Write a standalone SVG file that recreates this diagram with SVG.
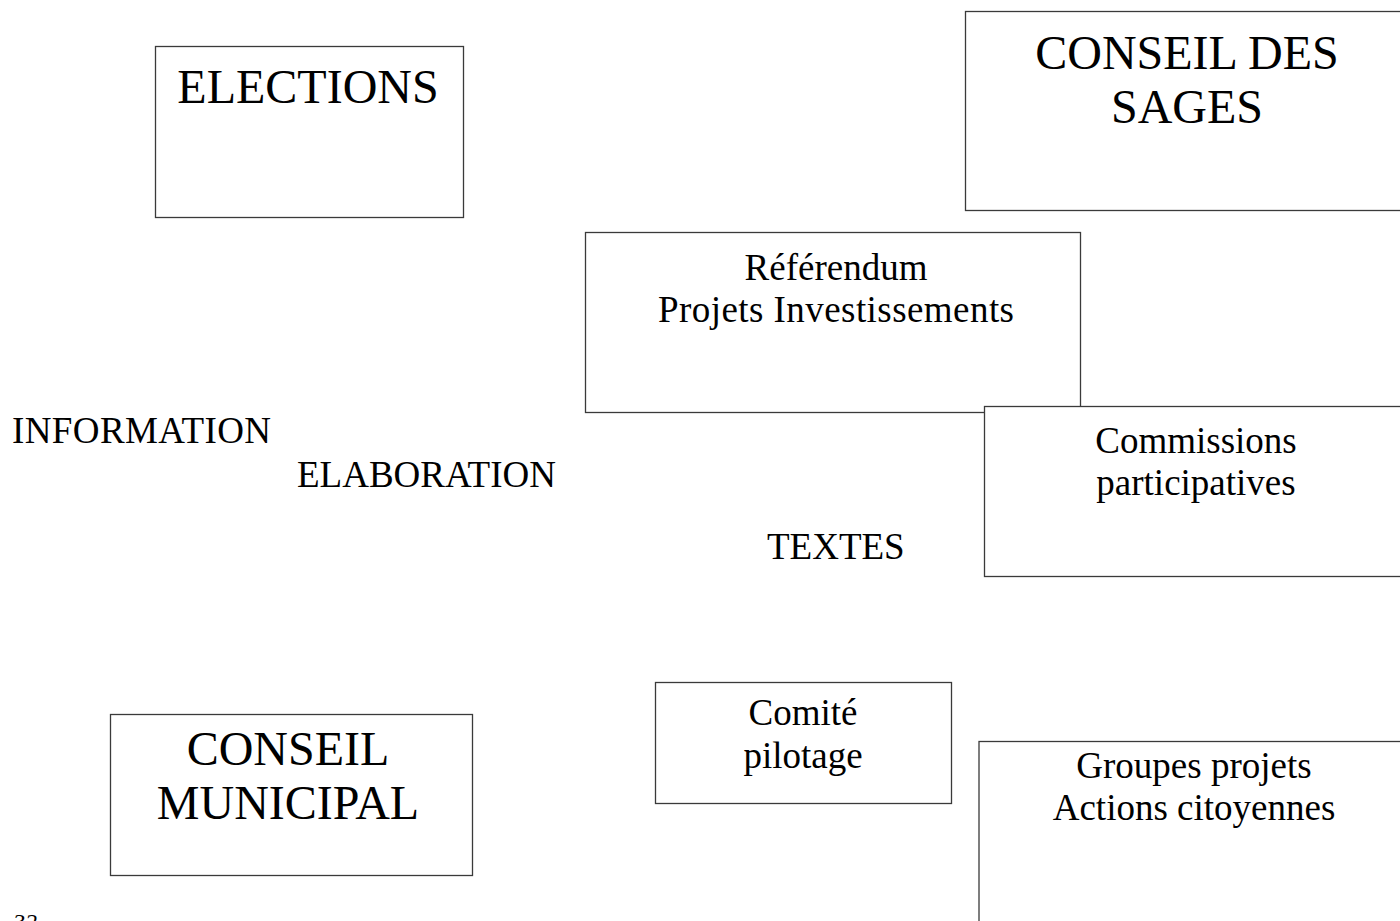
<svg xmlns="http://www.w3.org/2000/svg" width="1400" height="921" viewBox="0 0 1400 921">
<style>
.box{fill:#fff;stroke:#3a3a3a;stroke-width:1.3}
.big{font-family:"Liberation Serif","Times New Roman",serif;font-size:48px;fill:#000;text-anchor:middle}
.mid{font-family:"Liberation Serif","Times New Roman",serif;font-size:37px;fill:#000;text-anchor:middle}
.free{font-family:"Liberation Serif","Times New Roman",serif;font-size:37px;fill:#000}
</style>
<rect width="1400" height="921" fill="#fff"/>
<g id="elections">
<rect class="box" x="155.5" y="46.5" width="308" height="171"/>
<text class="big" x="308" y="103">ELECTIONS</text>
</g>
<g id="conseil-sages">
<rect class="box" x="965.5" y="11.5" width="450" height="199"/>
<text class="big" x="1187" y="69">CONSEIL DES</text>
<text class="big" x="1187" y="123">SAGES</text>
</g>
<g id="referendum">
<rect class="box" x="585.5" y="232.5" width="495" height="180"/>
<text class="mid" x="836" y="280">Référendum</text>
<text class="mid" x="836" y="322" textLength="356">Projets Investissements</text>
</g>
<g id="commissions">
<rect class="box" x="984.5" y="406.5" width="430" height="170"/>
<text class="mid" x="1196" y="453">Commissions</text>
<text class="mid" x="1196" y="495">participatives</text>
</g>
<g id="comite">
<rect class="box" x="655.5" y="682.5" width="296" height="121"/>
<text class="mid" x="803" y="725">Comité</text>
<text class="mid" x="803" y="768">pilotage</text>
</g>
<g id="groupes">
<rect class="box" x="979" y="741.5" width="440" height="200"/>
<text class="mid" x="1194" y="778">Groupes projets</text>
<text class="mid" x="1194" y="820">Actions citoyennes</text>
</g>
<g id="conseil-municipal">
<rect class="box" x="110.5" y="714.5" width="362" height="161"/>
<text class="big" x="288" y="765">CONSEIL</text>
<text class="big" x="288" y="819">MUNICIPAL</text>
</g>
<g id="labels">
<text class="free" x="12" y="443" textLength="259">INFORMATION</text>
<text class="free" x="297" y="487">ELABORATION</text>
<text class="free" x="767" y="559">TEXTES</text>
<text x="13" y="930" font-family="Liberation Serif, serif" font-size="24" font-style="italic">32</text>
</g>
<g id="connectors"></g>
</svg>
